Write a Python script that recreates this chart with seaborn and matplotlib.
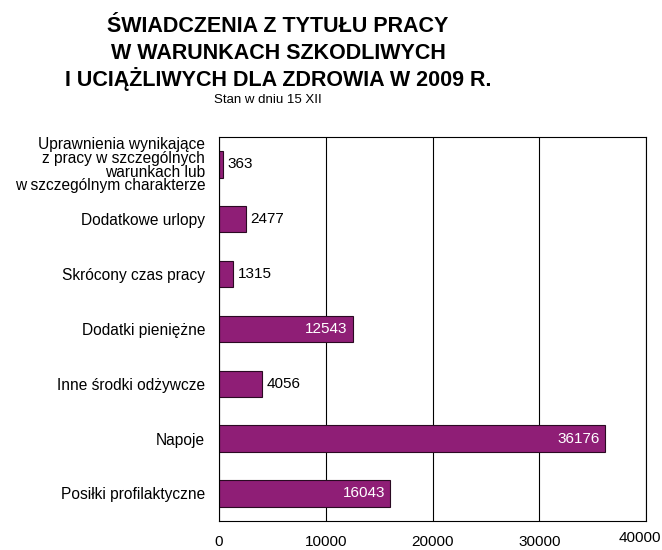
import matplotlib
matplotlib.use("Agg")
import matplotlib.pyplot as plt
import matplotlib.transforms as mtransforms
import seaborn as sns
import pandas as pd

# dane z wykresu (od góry do dołu)
categories = [
    "Uprawnienia wynikające\nz pracy w szczególnych\nwarunkach lub\nw szczególnym charakterze",
    "Dodatkowe urlopy",
    "Skrócony czas pracy",
    "Dodatki pieniężne",
    "Inne środki odżywcze",
    "Napoje",
    "Posiłki profilaktyczne",
]
values = [363, 2477, 1315, 12543, 4056, 36176, 16043]
x_ticks = [0, 10000, 20000, 30000, 40000]

title_lines = [
    "ŚWIADCZENIA Z TYTUŁU PRACY",
    "W WARUNKACH SZKODLIWYCH",
    "I UCIĄŻLIWYCH DLA ZDROWIA W 2009 R.",
]
subtitle = "Stan w dniu 15 XII"

bar_color = "#8f1e76"

sns.set_style("white")
plt.rcParams['font.family'] = ['Liberation Sans', 'DejaVu Sans']
plt.rcParams['text.color'] = 'black'
plt.rcParams['xtick.color'] = 'black'
plt.rcParams['ytick.color'] = 'black'

df = pd.DataFrame({"cat": categories, "val": values})

fig = plt.figure(figsize=(6.62, 5.5), dpi=100)
ax = fig.add_axes([0.331, 0.053, 0.645, 0.698])

sns.barplot(data=df, x="val", y="cat", orient="h", color=bar_color,
            saturation=1, width=0.48, edgecolor="#2a0a22", linewidth=0.8, ax=ax)

ax.set_xlim(0, 40000)
ax.set_ylim(len(categories) - 0.5, -0.5)
ax.set_xlabel("")
ax.set_ylabel("")

# siatka pionowa
ax.set_xticks(x_ticks)
ax.set_xticklabels([str(t) for t in x_ticks], fontsize=11)
ax.xaxis.grid(True, color="black", linewidth=0.8)
ax.set_axisbelow(True)
ax.tick_params(axis="x", direction="out", length=4, width=0.8, color="black", pad=6)
# ostatnia etykieta lekko przesunięta jak w oryginale
last = ax.get_xticklabels()[-1]
last.set_transform(last.get_transform() + mtransforms.ScaledTranslation(-0.06, 0.04, fig.dpi_scale_trans))

# etykiety kategorii, kreski między kategoriami
ax.set_yticks(range(len(categories)))
ax.set_yticklabels(categories, fontsize=11.2, linespacing=0.9)
ax.tick_params(axis="y", length=0, pad=10)
ax.set_yticks([i + 0.5 for i in range(-1, len(categories))], minor=True)
ax.tick_params(axis="y", which="minor", direction="out", length=4, width=0.8, color="black")

for spine in ax.spines.values():
    spine.set_edgecolor("black")
    spine.set_linewidth(0.8)

# wartości przy słupkach
for i, v in enumerate(values):
    if v > 10000:
        ax.text(v - 500, i, str(v), ha="right", va="center", color="white", fontsize=11)
    else:
        ax.text(v + 400, i, str(v), ha="left", va="center", color="black", fontsize=11)

# tytuł - każda linia osobno, żeby odstępy były równe
for k, line in enumerate(title_lines):
    fig.text(0.42, 0.942 - k * 0.049, line, ha="center", va="baseline", fontsize=15.5,
             fontweight="bold", color="black")
fig.text(0.405, 0.818, subtitle, ha="center", va="center", fontsize=9.5, color="black")

fig.savefig("out.png", dpi=100)
